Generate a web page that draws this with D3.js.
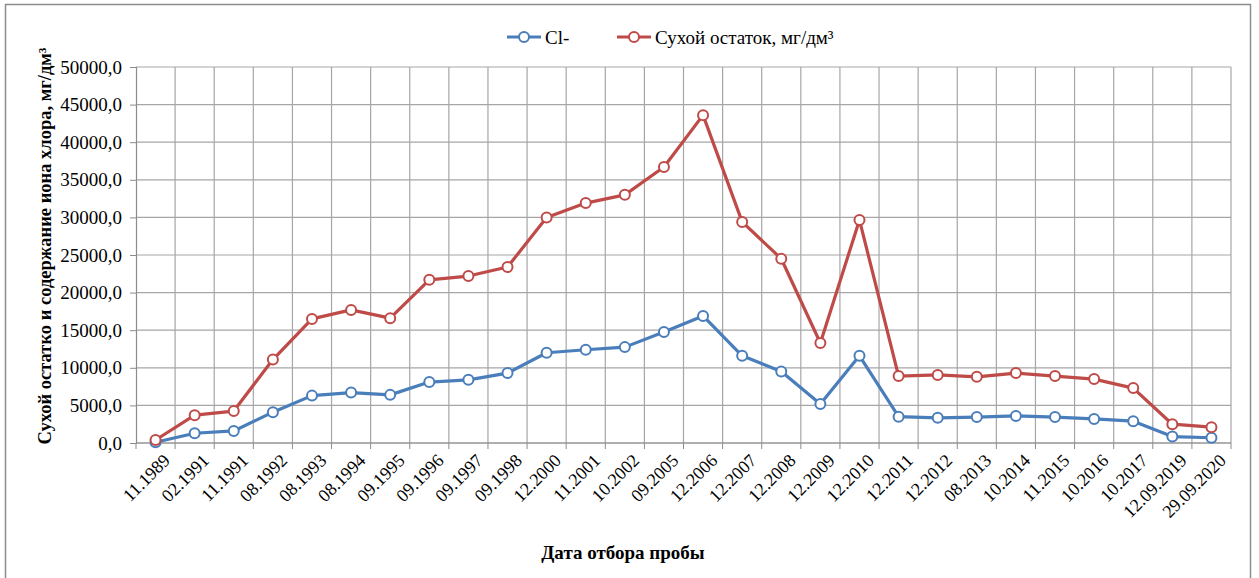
<!DOCTYPE html>
<html>
<head>
<meta charset="utf-8">
<script src="https://cdn.jsdelivr.net/npm/d3@7"></script>
<style>
  body { margin: 0; background: #fff; }
</style>
</head>
<body>
<div id="chart"></div>
<script>
// sample dates (category axis)
var dates = ["11.1989", "02.1991", "11.1991", "08.1992", "08.1993", "08.1994", "09.1995",
    "09.1996", "09.1997", "09.1998", "12.2000", "11.2001", "10.2002", "09.2005", "12.2006",
    "12.2007", "12.2008", "12.2009", "12.2010", "12.2011", "12.2012", "08.2013", "10.2014",
    "11.2015", "10.2016", "10.2017", "12.09.2019", "29.09.2020"];

// Cl- , mg/dm3
var chloride = [100, 1300, 1600, 4100, 6300, 6700, 6400, 8100, 8400, 9300, 12000, 12400,
    12750, 14750, 16900, 11600, 9500, 5200, 11600, 3500, 3350, 3450, 3600, 3450, 3200,
    2900, 850, 700];

// dry residue, mg/dm3
var dryResidue = [400, 3700, 4250, 11100, 16500, 17700, 16600, 21700, 22200, 23400, 30000,
    31900, 33000, 36700, 43600, 29400, 24500, 13300, 29650, 8900, 9050, 8800, 9300, 8900,
    8500, 7300, 2500, 2100];

var yTicks = [0, 5000, 10000, 15000, 20000, 25000, 30000, 35000, 40000, 45000, 50000];

var seriesNames = ["Cl-", "Сухой остаток, мг/дм³"];
var colors = ["#4A7EBB", "#BE4B48"];

var W = 1259, H = 578;
var margin = { top: 67, right: 28, bottom: 135, left: 136 };
var width = 1231 - margin.left,
    height = 443 - margin.top;
var FONT = "'Liberation Serif'";

var svg = d3.select("#chart").append("svg")
    .attr("width", W)
    .attr("height", H);

// outer chart border
svg.append("rect")
    .attr("x", 5.5).attr("y", 4.5)
    .attr("width", 1245).attr("height", 580)
    .attr("fill", "none")
    .attr("stroke", "#8c8c8c")
    .attr("stroke-width", 1.5);

var g = svg.append("g")
    .attr("transform", "translate(" + margin.left + "," + margin.top + ")");

var x = d3.scaleBand().domain(dates).range([0, width]);
var y = d3.scaleLinear().domain([0, 50000]).range([height, 0]);
var fmt = function (v) { return d3.format(".1f")(v).replace(".", ","); };

// horizontal gridlines
g.selectAll(".hgrid").data(yTicks).enter().append("line")
    .attr("x1", 0).attr("x2", width)
    .attr("y1", function (d) { return y(d); })
    .attr("y2", function (d) { return y(d); })
    .attr("stroke", "#a6a6a6").attr("stroke-width", 1.2);

// vertical gridlines between categories
var bounds = dates.map(function (d) { return x(d); }).concat([width]);
g.selectAll(".vgrid").data(bounds.slice(1)).enter().append("line")
    .attr("x1", function (d) { return d; }).attr("x2", function (d) { return d; })
    .attr("y1", 0).attr("y2", height)
    .attr("stroke", "#a6a6a6").attr("stroke-width", 1.2);

// y axis
var yAxis = g.append("g")
    .call(d3.axisLeft(y).tickValues(yTicks).tickFormat(fmt).tickSize(6).tickPadding(8))
    .attr("font-family", null).attr("font-size", null);
yAxis.select(".domain").attr("stroke", "#8c8c8c").attr("stroke-width", 1.2);
yAxis.selectAll(".tick line").attr("stroke", "#8c8c8c");
yAxis.selectAll("text")
    .style("font-size", "19px").style("font-family", FONT).attr("fill", "#000");

// x axis
var xAxisG = g.append("g").attr("transform", "translate(0," + height + ")");
xAxisG.append("line").attr("x1", 0).attr("x2", width)
    .attr("stroke", "#8c8c8c").attr("stroke-width", 1.2);
xAxisG.selectAll(".xtick").data(bounds).enter().append("line")
    .attr("x1", function (d) { return d; }).attr("x2", function (d) { return d; })
    .attr("y1", 0).attr("y2", 6)
    .attr("stroke", "#8c8c8c");
xAxisG.selectAll(".xlabel").data(dates).enter().append("text")
    .attr("text-anchor", "end")
    .style("font-size", "18px").style("font-family", FONT)
    .attr("transform", function (d) {
        return "translate(" + (x(d) + x.bandwidth() / 2 + 6) + ",9) rotate(-45)";
    })
    .attr("dy", "0.75em")
    .text(function (d) { return d; });

// lines
var line = d3.line()
    .x(function (d, i) { return x(dates[i]) + x.bandwidth() / 2; })
    .y(function (d) { return y(d); });

[chloride, dryResidue].forEach(function (vals, k) {
    g.append("path")
        .datum(vals)
        .attr("d", line)
        .attr("fill", "none")
        .attr("stroke", colors[k])
        .attr("stroke-width", 3.2)
        .attr("stroke-linejoin", "round");
    g.selectAll(".pt" + k).data(vals).enter().append("circle")
        .attr("cx", function (d, i) { return x(dates[i]) + x.bandwidth() / 2; })
        .attr("cy", function (d) { return y(d); })
        .attr("r", 5)
        .attr("fill", "#fff")
        .attr("stroke", colors[k])
        .attr("stroke-width", 2);
});

// legend
var legendX = [507, 617];
seriesNames.forEach(function (name, k) {
    var lg = svg.append("g").attr("transform", "translate(" + legendX[k] + ",37)");
    lg.append("line").attr("x1", 0).attr("x2", 34)
        .attr("stroke", colors[k]).attr("stroke-width", 3.2);
    lg.append("circle").attr("cx", 17).attr("r", 5)
        .attr("fill", "#fff").attr("stroke", colors[k]).attr("stroke-width", 2);
    lg.append("text").attr("x", 38).attr("dy", "0.35em")
        .style("font-size", "19px").style("font-family", FONT).text(name);
});

// axis titles
svg.append("text")
    .attr("transform", "translate(45,246) rotate(-90)")
    .attr("text-anchor", "middle")
    .attr("dy", "0.35em")
    .style("font-size", "18.5px").style("font-weight", "bold").style("font-family", FONT)
    .text("Сухой остатко и содержание иона хлора, мг/дм³");

svg.append("text")
    .attr("x", 623).attr("y", 552)
    .attr("text-anchor", "middle")
    .attr("dy", "0.35em")
    .style("font-size", "19px").style("font-weight", "bold").style("font-family", FONT)
    .text("Дата отбора пробы");
</script>
</body>
</html>
